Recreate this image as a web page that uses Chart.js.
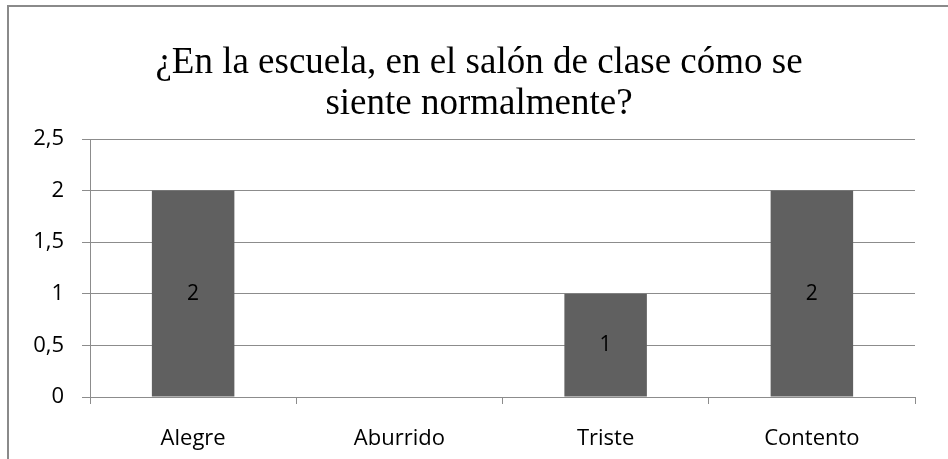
<!DOCTYPE html>
<html>
<head>
<meta charset="utf-8">
<script src="https://cdn.jsdelivr.net/npm/chart.js@4"></script>
<style>
  html, body { margin: 0; padding: 0; background: #fff; }
  #wrap { position: relative; width: 948px; height: 459px; overflow: hidden; }
  #frame { position: absolute; left: 7px; top: 5px; width: 960px; height: 480px;
           border: 2px solid #8a8a8a; box-sizing: border-box; }
  canvas { position: absolute; left: 0; top: 0; }
</style>
</head>
<body>
<div id="wrap">
  <div id="frame"></div>
  <canvas id="canvas_chart01" width="948" height="459"></canvas>
</div>
<script>
const categories = ['Alegre', 'Aburrido', 'Triste', 'Contento'];
const values = [2, 0, 1, 2];
const titleLines = ['¿En la escuela, en el salón de clase cómo se', 'siente normalmente?'];

const tickFont = { family: "'Open Sans'", size: 22 };
const gridColor = '#8c8c8c';

// etiquetas de valor centradas en cada barra
const barLabels = {
    id: 'barLabels',
    afterLayout(chart) {
        // el título va centrado un poco más a la derecha
        if (chart.titleBlock) chart.titleBlock.left = 43;
    },
    afterDatasetsDraw(chart) {
        const ctx = chart.ctx;
        const meta = chart.getDatasetMeta(0);
        ctx.save();
        ctx.font = "21px 'Open Sans'";
        ctx.fillStyle = '#000';
        ctx.textAlign = 'center';
        ctx.textBaseline = 'middle';
        meta.data.forEach((bar, i) => {
            if (!values[i]) return;
            const p = bar.getProps(['x', 'y', 'base'], true);
            ctx.fillText(String(values[i]), p.x, (p.y + p.base) / 2);
        });
        ctx.restore();
    }
};

const ctx01 = document.getElementById('canvas_chart01');

new Chart(ctx01, {
    type: 'bar',
    data: {
        labels: categories,
        datasets: [{
            data: values,
            backgroundColor: '#606060',
            borderWidth: 0,
            categoryPercentage: 1,
            barPercentage: 0.4
        }]
    },
    options: {
        responsive: false,
        animation: false,
        layout: { padding: { left: 0, right: 33, top: 0, bottom: 0 } },
        plugins: {
            legend: { display: false },
            tooltip: { enabled: false },
            title: {
                display: true,
                text: titleLines,
                color: '#000',
                font: { family: "'Liberation Serif', serif", size: 37, weight: 'normal', lineHeight: 1.1 },
                padding: { top: 43, bottom: 14.6 }
            }
        },
        scales: {
            y: {
                min: 0,
                max: 2.5,
                afterFit: (scale) => { scale.width = 90; },
                ticks: {
                    stepSize: 0.5,
                    color: '#000',
                    font: tickFont,
                    padding: 18,
                    callback: (v) => String(v).replace('.', ',')
                },
                grid: { color: gridColor, lineWidth: 1, tickLength: 8 },
                border: { color: gridColor, width: 1 }
            },
            x: {
                afterFit: (scale) => { scale.height = 62; },
                ticks: { color: '#000', font: tickFont, padding: 22 },
                grid: { offset: true, drawOnChartArea: false, color: gridColor, tickLength: 7 },
                border: { color: gridColor, width: 1 }
            }
        }
    },
    plugins: [barLabels]
});
</script>
</body>
</html>
